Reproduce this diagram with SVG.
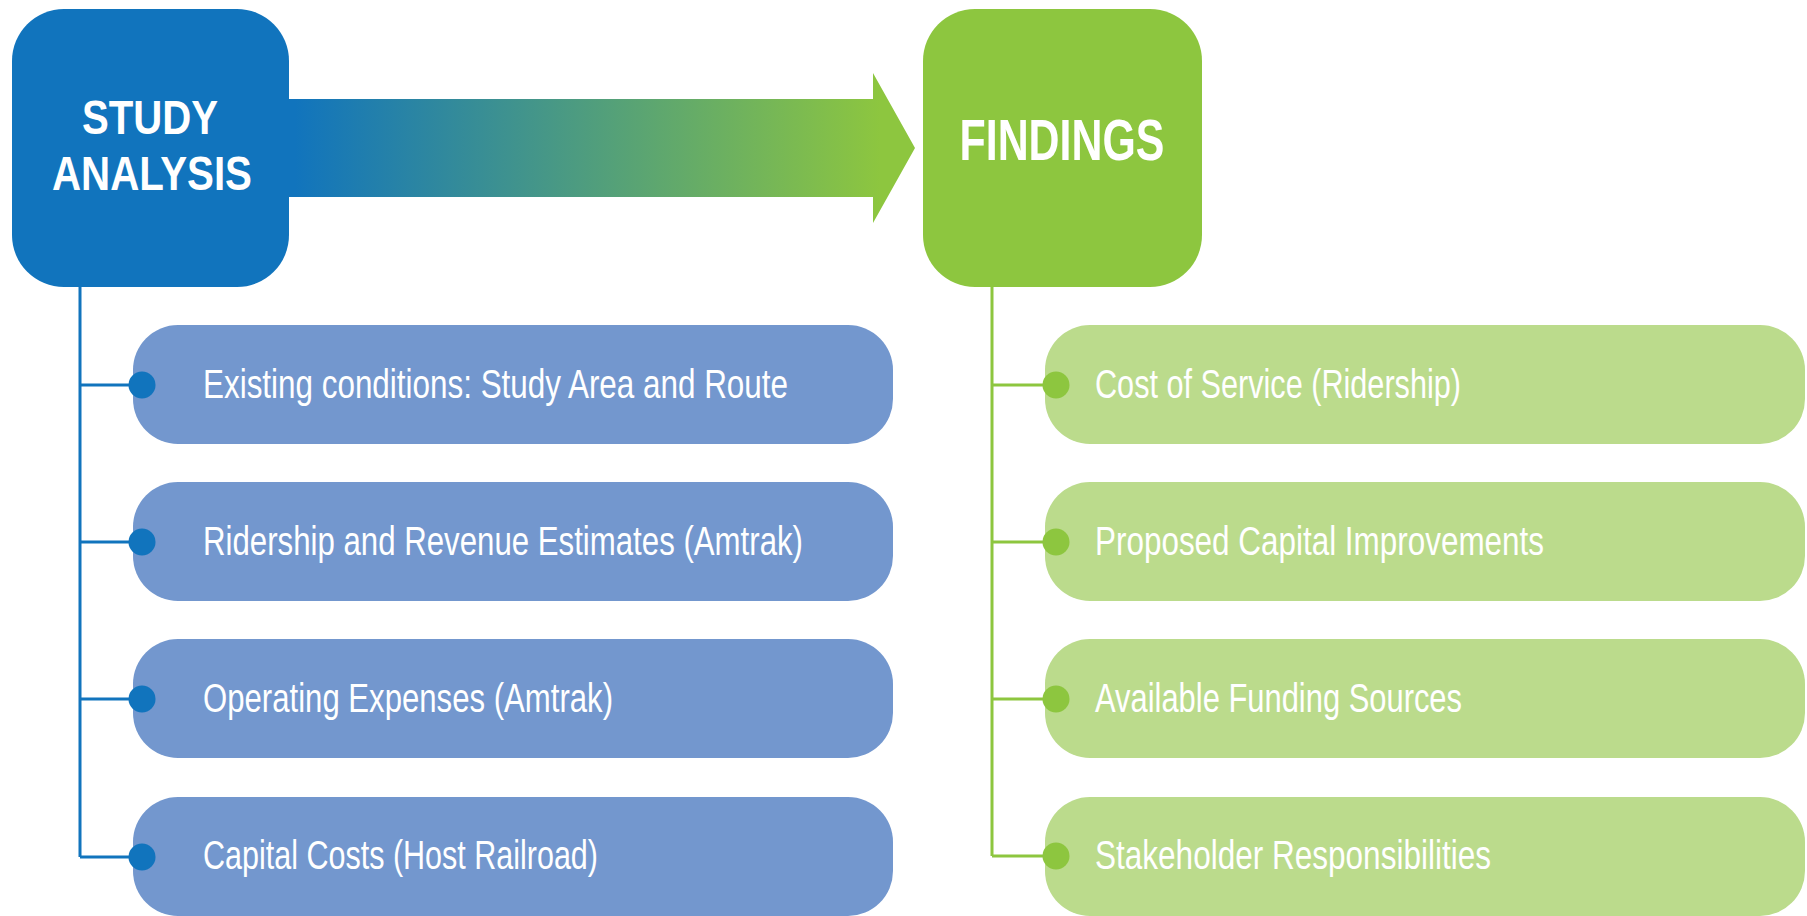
<svg xmlns="http://www.w3.org/2000/svg" width="1807" height="916" viewBox="0 0 1807 916">
<style>
.hdr{font-family:"Liberation Sans",Arial,sans-serif;font-weight:bold;fill:#fff;font-size:49px}
.hdr2{font-family:"Liberation Sans",Arial,sans-serif;font-weight:bold;fill:#fff;font-size:58px}
.item{font-family:"Liberation Sans",Arial,sans-serif;fill:#fff;font-size:41px}
.bl{fill:#7397CE}
.gr{fill:#BBDB8C}
.cb{fill:none;stroke:#1174BD;stroke-width:3}
.cg{fill:none;stroke:#8DC63F;stroke-width:3}
.db{fill:#1174BD}
.dg{fill:#8DC63F}
</style>
<defs>
<linearGradient id="ag" gradientUnits="userSpaceOnUse" x1="295" y1="0" x2="880" y2="0">
<stop offset="0" stop-color="#1174BD"/>
<stop offset="1" stop-color="#8DC63F"/>
</linearGradient>
</defs>
<rect width="1807" height="916" fill="#fff"/>
<g id="connectors">
<path class="cb" d="M80 287 V857 M80 385 H142 M80 542 H142 M80 699 H142 M80 857 H142"/>
<path class="cg" d="M992 287 V856 M992 385 H1056 M992 542 H1056 M992 699 H1056 M992 856 H1056"/>
<path id="main-arrow" d="M285 99 H873 V73 L915 148 L873 223 V197 H285 Z" fill="url(#ag)"/>
</g>
<g id="study-analysis">
<rect x="12" y="9" width="277" height="278" rx="52" fill="#1174BD"/>
<text class="hdr" x="150" y="134" text-anchor="middle" textLength="136" lengthAdjust="spacingAndGlyphs">STUDY</text>
<text class="hdr" x="152" y="190" text-anchor="middle" textLength="200" lengthAdjust="spacingAndGlyphs">ANALYSIS</text>
</g>
<g id="findings">
<rect x="923" y="9" width="279" height="278" rx="52" fill="#8DC63F"/>
<text class="hdr2" x="1062" y="160" text-anchor="middle" textLength="205" lengthAdjust="spacingAndGlyphs">FINDINGS</text>
</g>
<g id="a1"><rect class="bl" x="133" y="325" width="760" height="119" rx="45"/><circle class="db" cx="142" cy="385" r="13.5"/><text class="item" x="203" y="398" textLength="585" lengthAdjust="spacingAndGlyphs">Existing conditions: Study Area and Route</text></g>
<g id="a2"><rect class="bl" x="133" y="482" width="760" height="119" rx="45"/><circle class="db" cx="142" cy="542" r="13.5"/><text class="item" x="203" y="555" textLength="600" lengthAdjust="spacingAndGlyphs">Ridership and Revenue Estimates (Amtrak)</text></g>
<g id="a3"><rect class="bl" x="133" y="639" width="760" height="119" rx="45"/><circle class="db" cx="142" cy="699" r="13.5"/><text class="item" x="203" y="712" textLength="410" lengthAdjust="spacingAndGlyphs">Operating Expenses (Amtrak)</text></g>
<g id="a4"><rect class="bl" x="133" y="797" width="760" height="119" rx="45"/><circle class="db" cx="142" cy="857" r="13.5"/><text class="item" x="203" y="869" textLength="395" lengthAdjust="spacingAndGlyphs">Capital Costs (Host Railroad)</text></g>
<g id="f1"><rect class="gr" x="1045" y="325" width="760" height="119" rx="45"/><circle class="dg" cx="1056" cy="385" r="13.5"/><text class="item" x="1095" y="398" textLength="366" lengthAdjust="spacingAndGlyphs">Cost of Service (Ridership)</text></g>
<g id="f2"><rect class="gr" x="1045" y="482" width="760" height="119" rx="45"/><circle class="dg" cx="1056" cy="542" r="13.5"/><text class="item" x="1095" y="555" textLength="449" lengthAdjust="spacingAndGlyphs">Proposed Capital Improvements</text></g>
<g id="f3"><rect class="gr" x="1045" y="639" width="760" height="119" rx="45"/><circle class="dg" cx="1056" cy="699" r="13.5"/><text class="item" x="1095" y="712" textLength="367" lengthAdjust="spacingAndGlyphs">Available Funding Sources</text></g>
<g id="f4"><rect class="gr" x="1045" y="797" width="760" height="119" rx="45"/><circle class="dg" cx="1056" cy="856" r="13.5"/><text class="item" x="1095" y="869" textLength="396" lengthAdjust="spacingAndGlyphs">Stakeholder Responsibilities</text></g>
</svg>
